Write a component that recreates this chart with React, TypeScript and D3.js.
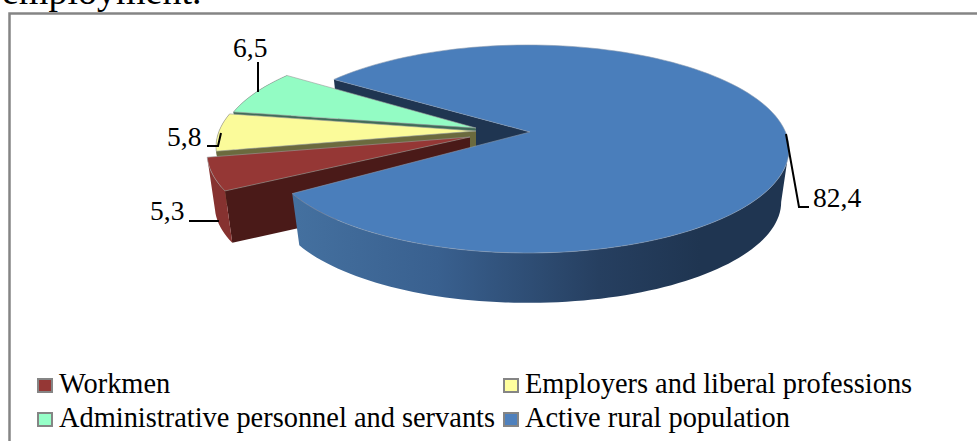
import * as d3 from "d3"

const categories = ["Workmen", "Employers and liberal professions", "Administrative personnel and servants", "Active rural population"]
const values = [5.3, 5.8, 6.5, 82.4]
const valueLabels = ["5,3", "5,8", "6,5", "82,4"]
const titleFragment = "employment."

const topColors = ["#953735", "#fbfb9a", "#93fcc4", "#4a7ebb"]
const wallColors = ["#4a1a18", "#6b6a3e", "#3f6b58", "#1f3551"]
const swatchColors = ["#953735", "#ffff9e", "#96ffc8", "#4f81bd"]

// how far each slice is pulled out of the pie: tip and outer rim move a bit differently
const tipShift = [[-60, 5], [-54, -1], [-54, -4], [0, 0]]
const rimShift = [[-60, 4], [-51, -2], [-47, -4], [0, 0]]

const cx = 528
const cy = 149
const rx = 261
const ry = 104
const apex = [530, 132]
const depth = 53
const bottomScale = 0.97
const rad = Math.PI / 180

function rim(t: number, i: number, low = false): [number, number] {
  const s = low ? bottomScale : 1
  const [ox, oy] = rimShift[i]
  return [cx + ox + rx * s * Math.sin(t), cy + oy - ry * s * Math.cos(t) + (low ? depth : 0)]
}

function center(i: number, low = false): [number, number] {
  const [ox, oy] = tipShift[i]
  return [apex[0] + ox, apex[1] + oy + (low ? depth : 0)]
}

function sweep(a: number, b: number, i: number, low = false) {
  const n = Math.max(2, Math.ceil(Math.abs(b - a) / (2 * rad)))
  return d3.range(n + 1).map((k) => rim(a + ((b - a) * k) / n, i, low))
}

const line = d3.line()
const poly = (pts: [number, number][]) => line(pts) + "Z"

export default function App() {
  const pie = d3
    .pie<number>()
    .sort(null)
    .startAngle(-111.4 * rad)
    .endAngle(248.6 * rad)
  const arcs = pie(values)
  const blue = arcs[3]
  const blueEnd = blue.endAngle - 4 * rad

  const sliceOrder = [2, 1, 0]

  return (
    <svg
      width={977}
      height={441}
      style={{ position: "absolute", left: 0, top: 0, background: "#fff", fontFamily: "'Liberation Serif', serif" }}
    >
      <defs>
        <linearGradient id="blueSide" gradientUnits="userSpaceOnUse" x1={297} x2={700} y1={0} y2={0}>
          <stop offset="0" stopColor="#44709f" />
          <stop offset="0.35" stopColor="#39608f" />
          <stop offset="0.75" stopColor="#263f60" />
          <stop offset="1" stopColor="#1f3551" />
        </linearGradient>
      </defs>

      <text x={2} y={4} fontSize={38} fill="#000">
        {titleFragment}
      </text>
      <path d="M9.5,441V13.5H977" fill="none" stroke="#858585" strokeWidth={2.5} />

      {/* cut wall of the big slice, seen through the gap */}
      <path
        d={poly([center(3), rim(blue.startAngle, 3), rim(blue.startAngle, 3, true), center(3, true)])}
        fill={wallColors[3]}
      />

      {sliceOrder.map((i) => {
        const a = arcs[i]
        return (
          <g key={categories[i]}>
            <path
              d={poly([center(i), rim(a.startAngle, i), rim(a.startAngle, i, true), center(i, true)])}
              fill={wallColors[i]}
            />
            <path
              d={poly([...sweep(a.startAngle, a.endAngle, i), ...sweep(a.endAngle, a.startAngle, i, true)])}
              fill={i === 0 ? "#863230" : wallColors[i]}
            />
            <path
              d={poly([center(i), ...sweep(a.startAngle, a.endAngle, i)])}
              fill={topColors[i]}
              stroke="#9a9a9a"
              strokeWidth={0.6}
            />
          </g>
        )
      })}

      <path
        d={poly([...sweep(90 * rad, blueEnd, 3), ...sweep(blueEnd, 90 * rad, 3, true)])}
        fill="url(#blueSide)"
      />
      <path
        d={poly([center(3), ...sweep(blue.startAngle, blueEnd, 3)])}
        fill={topColors[3]}
        stroke="#8a9ab0"
        strokeWidth={0.6}
      />

      <g fill="none" stroke="#000" strokeWidth={2}>
        <path d="M258,92V62" />
        <path d="M207,146H218L221,133" />
        <path d="M189,221H219" />
        <path d="M786,134L799,207H809" />
      </g>
      <g fontSize={27.5} fill="#000">
        <text x={233} y={57}>{valueLabels[2]}</text>
        <text x={167} y={146}>{valueLabels[1]}</text>
        <text x={150} y={220}>{valueLabels[0]}</text>
        <text x={813} y={207}>{valueLabels[3]}</text>
      </g>

      {categories.map((c, i) => {
        const x = i % 2 === 0 ? 37 : 503
        const y = i < 2 ? 379 : 413
        return (
          <g key={c}>
            <rect x={x + 1} y={y} width={14} height={13} fill={swatchColors[i]} stroke="#858585" strokeWidth={2} />
            <text x={x + 22} y={y + 14} fontSize={28.4} fill="#000">
              {c}
            </text>
          </g>
        )
      })}
    </svg>
  )
}
